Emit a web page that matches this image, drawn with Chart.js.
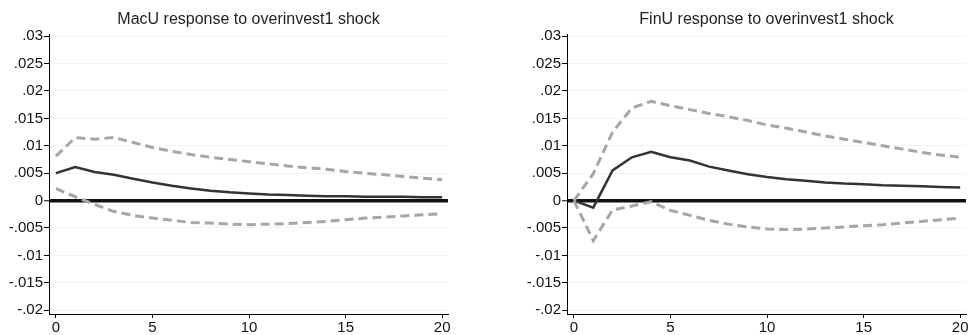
<!DOCTYPE html>
<html lang="en">
<head>
<meta charset="UTF-8">
<title>Impulse responses</title>
<script src="https://cdn.jsdelivr.net/npm/chart.js@4.4.0/dist/chart.umd.min.js"></script>
<style>
  body { margin: 0; background: #fff; width: 975px; height: 335px; overflow: hidden; position: relative; }
  .panel { position: absolute; top: 0; }
</style>
</head>
<body>
<div class="panel" style="left:0"><canvas id="macu" width="460" height="335"></canvas></div>
<div class="panel" style="left:517px"><canvas id="finu" width="458" height="335"></canvas></div>
<script>
// horizon steps 0..20
const steps = [0,1,2,3,4,5,6,7,8,9,10,11,12,13,14,15,16,17,18,19,20];
const yTicks = [-0.02, -0.015, -0.01, -0.005, 0, 0.005, 0.01, 0.015, 0.02, 0.025, 0.03];
const xTicks = [0, 5, 10, 15, 20];

// MacU response to overinvest1 shock
const macuIrf   = [0.0050,0.0061,0.0052,0.0047,0.0040,0.0033,0.0027,0.0022,0.0018,0.0015,0.0013,0.0011,0.0010,0.0009,0.0008,0.0008,0.0007,0.0007,0.0007,0.0006,0.0006];
const macuUpper = [0.0081,0.0115,0.0112,0.0115,0.0106,0.0097,0.0090,0.0084,0.0079,0.0075,0.0071,0.0067,0.0063,0.0060,0.0057,0.0053,0.0050,0.0047,0.0044,0.0041,0.0038];
const macuLower = [0.0022,0.0007,-0.0007,-0.0020,-0.0027,-0.0032,-0.0036,-0.0040,-0.0041,-0.0043,-0.0044,-0.0043,-0.0042,-0.0040,-0.0038,-0.0035,-0.0032,-0.0030,-0.0028,-0.0026,-0.0024];

// FinU response to overinvest1 shock
const finuIrf   = [0,-0.0013,0.0055,0.0079,0.0089,0.0079,0.0073,0.0062,0.0055,0.0048,0.0043,0.0039,0.0036,0.0033,0.0031,0.0030,0.0028,0.0027,0.0026,0.0025,0.0024];
const finuUpper = [0,0.0049,0.0125,0.0169,0.0181,0.0173,0.0166,0.0159,0.0153,0.0146,0.0138,0.0132,0.0125,0.0118,0.0112,0.0106,0.0100,0.0094,0.0088,0.0083,0.0079];
const finuLower = [0,-0.0073,-0.0017,-0.0010,-0.0002,-0.0018,-0.0027,-0.0036,-0.0043,-0.0048,-0.0052,-0.0053,-0.0052,-0.0050,-0.0048,-0.0046,-0.0044,-0.0041,-0.0038,-0.0035,-0.0032];

const font = { family: "'Liberation Sans', Arial, sans-serif", size: 15 };

function pts(vals) {
  return steps.map((s, i) => ({ x: s, y: vals[i] }));
}

function fmt(v) {
  // Stata style: drop leading zero
  if (v === 0) return '0';
  return String(v).replace('0.', '.');
}

function makeChart(id, title, irf, upper, lower, yWidth, padRight) {
  const band = { borderColor: '#a6a6a6', borderWidth: 3, borderDash: [9, 5], pointRadius: 0, tension: 0, fill: false };
  return new Chart(document.getElementById(id), {
    type: 'line',
    data: {
      datasets: [
        Object.assign({ label: 'upper', data: pts(upper) }, band),
        Object.assign({ label: 'lower', data: pts(lower) }, band),
        { label: 'irf', data: pts(irf), borderColor: '#333333', borderWidth: 2.5, pointRadius: 0, tension: 0, fill: false }
      ]
    },
    options: {
      responsive: false,
      animation: false,
      layout: { padding: { left: 0, right: padRight, top: 0, bottom: 0 } },
      plugins: {
        legend: { display: false },
        tooltip: { enabled: false },
        title: {
          display: true,
          text: title,
          fullSize: false,
          color: '#222',
          font: { family: font.family, size: 16, weight: 'normal' },
          padding: { top: 10, bottom: 4.8 }
        }
      },
      scales: {
        x: {
          type: 'linear',
          min: -0.36,
          max: 20.3,
          afterBuildTicks: s => { s.ticks = xTicks.map(v => ({ value: v })); },
          afterFit: s => { s.height = 21; },
          grid: { drawOnChartArea: false, drawTicks: true, tickLength: 4, tickColor: '#000' },
          border: { display: true, color: '#000', width: 1 },
          ticks: { font: font, color: '#111', padding: 1, maxRotation: 0, callback: v => String(v) }
        },
        y: {
          min: -0.0207,
          max: 0.0304,
          afterBuildTicks: s => { s.ticks = yTicks.map(v => ({ value: v })); },
          afterFit: s => { s.width = yWidth; },
          grid: {
            color: c => (c.tick && c.tick.value === 0) ? '#111' : '#f3f3f3',
            lineWidth: c => (c.tick && c.tick.value === 0) ? 3.5 : 1,
            tickColor: '#000',
            tickWidth: 1,
            tickLength: 5
          },
          border: { display: true, color: '#000', width: 1 },
          ticks: { font: font, color: '#111', padding: 1, callback: v => fmt(v) }
        }
      }
    }
  });
}

makeChart('macu', 'MacU response to overinvest1 shock', macuIrf, macuUpper, macuLower, 49, 12);
makeChart('finu', 'FinU response to overinvest1 shock', finuIrf, finuUpper, finuLower, 50, 9);
</script>
</body>
</html>
